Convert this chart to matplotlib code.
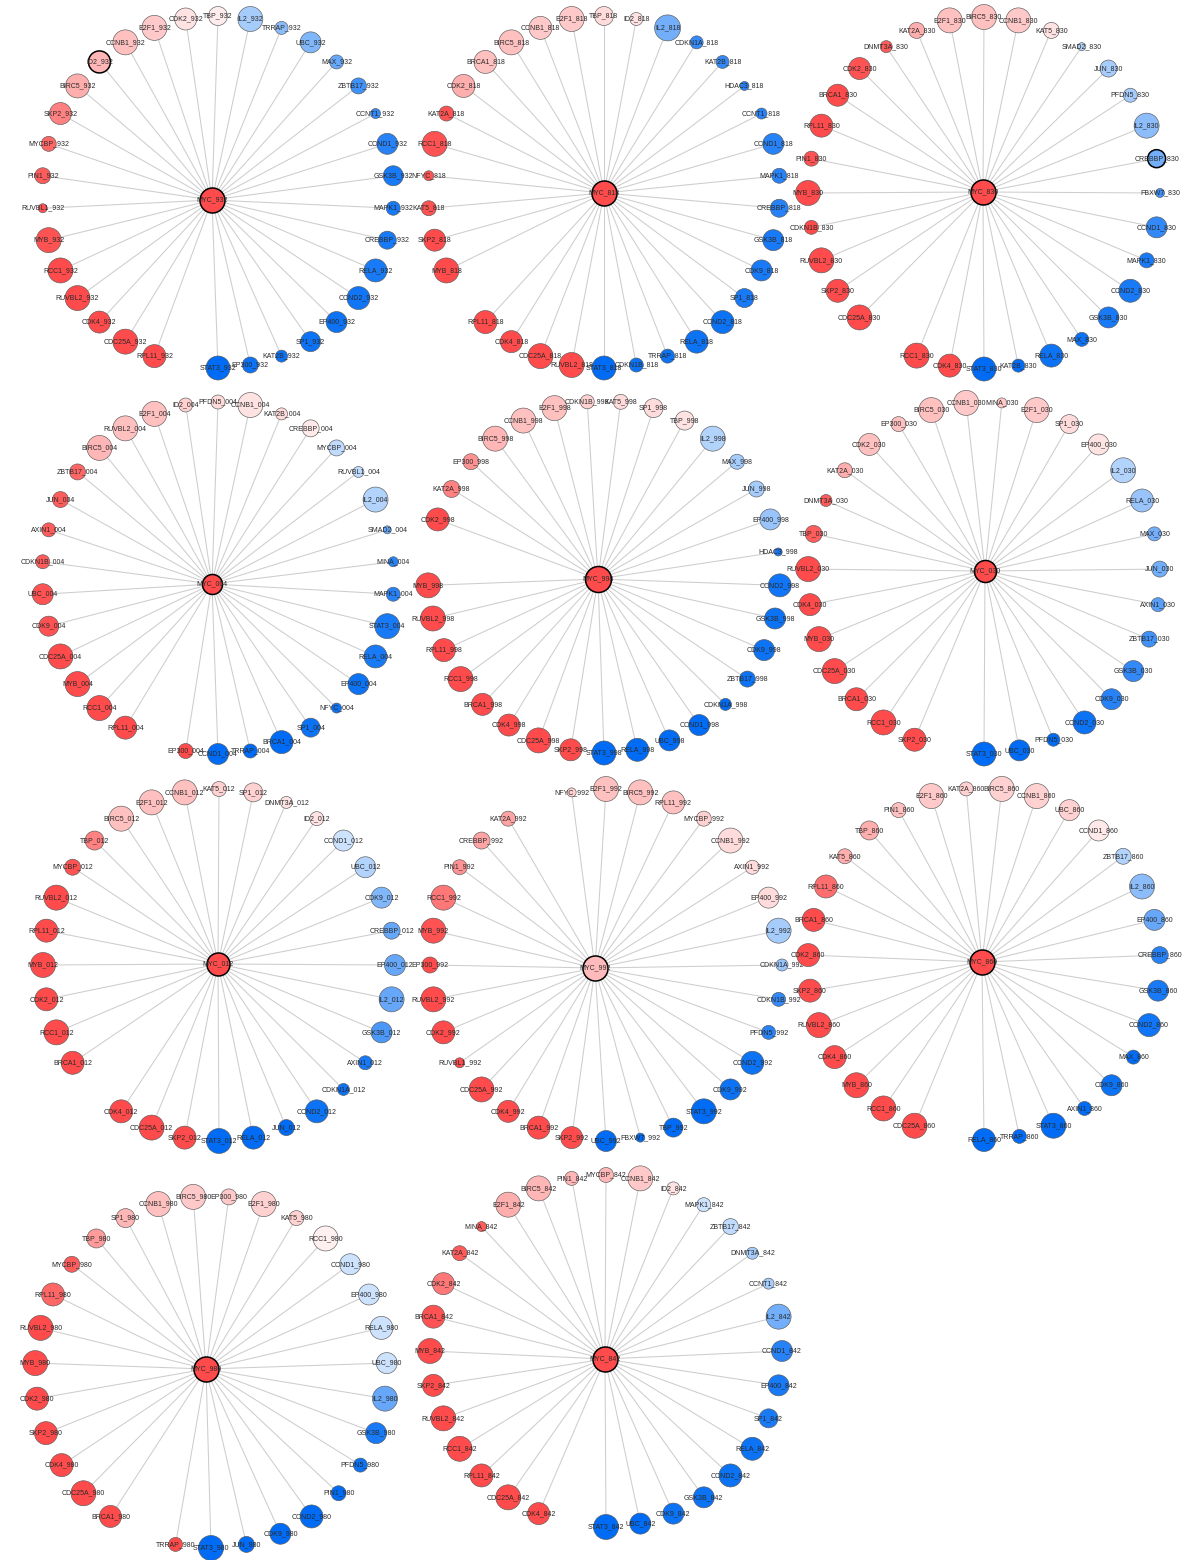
import numpy as np
import matplotlib
matplotlib.use("Agg")
import matplotlib.pyplot as plt
from matplotlib.colors import LinearSegmentedColormap, Normalize

plt.rcParams['font.family'] = ['Liberation Sans', 'DejaVu Sans']

W, H = 1185, 1560
RING_R = 176.0     # ring radius in pixels
HALF = 205.0       # half-width of each panel box in pixels

panels = ["932", "818", "830", "004", "998", "030", "012", "992", "860", "980", "842"]

# ring centre of every panel, figure pixels (x from left, y from top)
centres = {
    "932": (218, 192), "818": (604, 192), "830": (984, 193),
    "004": (218, 578), "998": (604, 577), "030": (984, 578),
    "012": (219, 965), "992": (606, 965), "860": (984, 964),
    "980": (211, 1372), "842": (606, 1351),
}
# small displacement of the hub from the ring centre, pixels (right, down)
hub_shift = {
    "932": (-6, 8), "818": (0, 1), "830": (-1, -1),
    "004": (-6, 6), "998": (-6, 2), "030": (1, -7),
    "012": (-1, -1), "992": (-11, 3), "860": (-2, -2),
    "980": (-5, -3), "842": (-1, 8),
}

# hub (MYC) score and diameter per panel
hub_score = {"932": 1.0, "818": 1.0, "830": 1.0, "004": 1.0, "998": 1.0, "030": 1.0,
             "012": 1.0, "992": 0.38, "860": 1.0, "980": 1.0, "842": 1.0}
hub_size = {"932": 25, "818": 25, "830": 25, "004": 20, "998": 26, "030": 22,
            "012": 23, "992": 25, "860": 25, "980": 25, "842": 25}

# leaves in ring order: slot 0 at the bottom, then counter-clockwise; None = empty slot
genes_932 = ["STAT3", "EP300", "KAT2B", "SP1", "EP400", "CCND2", "RELA", "CREBBP", "MAPK1", "GSK3B",
             "CCND1", "CCNT1", "ZBTB17", "MAX", "UBC", "TRRAP", "IL2", "TBP", "CDK2", "E2F1",
             "CCNB1", "ID2", "BIRC5", "SKP2", "MYCBP", "PIN1", "RUVBL1", "MYB", "RCC1", "RUVBL2",
             "CDK4", "CDC25A", "RPL11", None]
score_932 = [-1, -0.95, -0.95, -0.95, -0.95, -0.93, -0.9, -0.9, -0.9, -0.9,
             -0.85, -0.8, -0.75, -0.6, -0.5, -0.45, -0.35, 0.1, 0.15, 0.3,
             0.35, 0.4, 0.45, 0.7, 0.85, 0.9, 0.95, 0.95, 1, 1,
             1, 1, 1, None]
size_932 = [24, 16, 12, 20, 21, 23, 23, 18, 14, 20,
            21, 10, 16, 14, 21, 13, 25, 19, 22, 25,
            25, 22, 24, 22, 15, 16, 9, 25, 25, 25,
            22, 25, 23, None]

genes_818 = ["STAT3", "CDKN1B", "TRRAP", "RELA", "CCND2", "SP1", "CDK9", "GSK3B", "CREBBP", "MAPK1",
             "CCND1", "CCNT1", "HDAC3", "KAT2B", "CDKN1A", "IL2", "ID2", "TBP", "E2F1", "CCNB1",
             "BIRC5", "BRCA1", "CDK2", "KAT2A", "RCC1", "NFYC", "KAT5", "SKP2", "MYB", None,
             "RPL11", "CDK4", "CDC25A", "RUVBL2"]
score_818 = [-1, -0.95, -0.95, -0.95, -0.95, -0.9, -0.9, -0.9, -0.85, -0.85,
             -0.85, -0.85, -0.85, -0.8, -0.8, -0.55, 0.15, 0.2, 0.3, 0.3,
             0.35, 0.35, 0.45, 0.95, 0.95, 0.95, 0.95, 1, 1, None,
             1, 1, 1, 1]
size_818 = [24, 14, 14, 23, 23, 19, 21, 21, 18, 15,
            21, 11, 9, 13, 13, 26, 13, 19, 25, 23,
            25, 23, 23, 15, 25, 10, 15, 22, 25, None,
            23, 22, 25, 25]

genes_830 = ["STAT3", "KAT2B", "RELA", "MAX", "GSK3B", "CCND2", "MAPK1", "CCND1", "FBXW7", "CREBBP",
             "IL2", "PFDN5", "JUN", "SMAD2", "KAT5", "CCNB1", "BIRC5", "E2F1", "KAT2A", "DNMT3A",
             "CDK2", "BRCA1", "RPL11", "PIN1", "MYB", "CDKN1B", "RUVBL2", "SKP2", "CDC25A", None,
             "RCC1", "CDK4"]
score_830 = [-1, -1, -0.95, -0.95, -0.9, -0.9, -0.9, -0.8, -0.75, -0.55,
             -0.45, -0.35, -0.35, -0.3, 0.15, 0.3, 0.35, 0.35, 0.45, 0.9,
             0.95, 1, 1, 0.95, 1, 1, 1, 1, 1, None,
             1, 1]
size_830 = [24, 13, 23, 14, 21, 23, 15, 21, 9, 18,
            25, 14, 17, 8, 16, 25, 25, 25, 16, 12,
            22, 22, 23, 15, 25, 14, 25, 23, 25, None,
            25, 23]

genes_004 = ["CCND1", "TRRAP", "BRCA1", "SP1", "NFYC", "EP400", "RELA", "STAT3", "MAPK1", "MINA",
             "SMAD2", "IL2", "RUVBL1", "MYCBP", "CREBBP", "KAT2B", "CCNB1", "PFDN5", "ID2", "E2F1",
             "RUVBL2", "BIRC5", "ZBTB17", "JUN", "AXIN1", "CDKN1B", "UBC", "CDK9", "CDC25A", "MYB",
             "RCC1", "RPL11", None, "EP300"]
score_004 = [-1, -1, -1, -0.95, -0.95, -0.95, -0.9, -0.9, -0.85, -0.85,
             -0.6, -0.3, -0.25, -0.25, 0.12, 0.2, 0.15, 0.2, 0.25, 0.35,
             0.35, 0.4, 0.85, 0.9, 0.9, 0.9, 0.95, 0.95, 1, 1,
             1, 1, None, 1]
size_004 = [21, 14, 23, 19, 10, 21, 23, 25, 14, 10,
            8, 25, 11, 16, 17, 12, 25, 14, 14, 25,
            25, 25, 16, 16, 14, 14, 21, 20, 25, 25,
            25, 23, None, 15]

genes_998 = ["STAT3", "RELA", "UBC", "CCND1", "CDKN1A", "ZBTB17", "CDK9", "GSK3B", "CCND2", "HDAC3",
             "EP400", "JUN", "MAX", "IL2", "TBP", "SP1", "KAT5", "CDKN1B", "E2F1", "CCNB1",
             "BIRC5", "EP300", "KAT2A", "CDK2", None, "MYB", "RUVBL2", "RPL11", "RCC1", "BRCA1",
             "CDK4", "CDC25A", "SKP2"]
score_998 = [-1, -1, -1, -1, -1, -0.95, -0.95, -0.95, -0.93, -0.9,
             -0.4, -0.35, -0.35, -0.3, 0.15, 0.2, 0.2, 0.25, 0.35, 0.35,
             0.4, 0.6, 0.7, 1, None, 1, 1, 1, 1, 1,
             1, 1, 1]
size_998 = [24, 23, 21, 21, 12, 16, 21, 21, 23, 8,
            21, 16, 15, 25, 19, 19, 15, 14, 25, 25,
            25, 16, 17, 23, None, 25, 25, 23, 25, 22,
            22, 25, 22]

genes_030 = ["STAT3", "UBC", "PFDN5", "CCND2", "CDK9", "GSK3B", "ZBTB17", "AXIN1", "JUN", "MAX",
             "RELA", "IL2", "EP400", "SP1", "E2F1", "MINA", "CCNB1", "BIRC5", "EP300", "CDK2",
             "KAT2A", "DNMT3A", "TBP", "RUVBL2", "CDK4", "MYB", "CDC25A", "BRCA1", "RCC1", "SKP2",
             None]
score_030 = [-1, -1, -1, -0.95, -0.85, -0.8, -0.75, -0.65, -0.55, -0.55,
             -0.4, -0.3, 0.15, 0.2, 0.3, 0.3, 0.3, 0.35, 0.35, 0.35,
             0.45, 0.9, 0.9, 1, 1, 1, 1, 1, 1, 1,
             None]
size_030 = [24, 21, 13, 23, 21, 21, 16, 14, 16, 14,
            23, 25, 21, 19, 25, 10, 25, 25, 15, 22,
            15, 12, 17, 25, 22, 25, 25, 23, 25, 23,
            None]

genes_012 = ["STAT3", "RELA", "JUN", "CCND2", "CDKN1A", "AXIN1", "GSK3B", "IL2", "EP400", "CREBBP",
             "CDK9", "UBC", "CCND1", "ID2", "DNMT3A", "SP1", "KAT5", "CCNB1", "E2F1", "BIRC5",
             "TBP", "MYCBP", "RUVBL2", "RPL11", "MYB", "CDK2", "RCC1", "BRCA1", None, "CDK4",
             "CDC25A", "SKP2"]
score_012 = [-1, -1, -1, -0.95, -0.95, -0.9, -0.7, -0.6, -0.6, -0.6,
             -0.5, -0.3, -0.2, 0.15, 0.15, 0.25, 0.25, 0.35, 0.35, 0.35,
             0.7, 0.95, 1, 1, 1, 1, 1, 1, None, 1,
             1, 1]
size_012 = [25, 23, 16, 23, 12, 14, 21, 25, 21, 17,
            21, 21, 21, 14, 12, 19, 15, 25, 25, 25,
            19, 16, 25, 23, 25, 23, 25, 23, None, 23,
            25, 23]

genes_992 = ["UBC", "FBXW7", "TBP", "STAT3", "CDK9", "CCND2", "PFDN5", "CDKN1B", "CDKN1A", "IL2",
             "EP400", "AXIN1", "CCNB1", "MYCBP", "RPL11", "BIRC5", "E2F1", "NFYC", None, "KAT2A",
             "CREBBP", "PIN1", "RCC1", "MYB", "EP300", "RUVBL2", "CDK2", "RUVBL1", "CDC25A", "CDK4",
             "BRCA1", "SKP2"]
score_992 = [-1, -1, -1, -1, -0.95, -0.95, -0.85, -0.8, -0.4, -0.35,
             0.2, 0.2, 0.2, 0.25, 0.35, 0.35, 0.35, 0.25, None, 0.5,
             0.5, 0.6, 0.75, 0.95, 1, 1, 1, 1, 1, 1,
             1, 1]
size_992 = [21, 9, 19, 25, 21, 23, 14, 14, 12, 25,
            21, 14, 25, 15, 23, 25, 25, 9, None, 15,
            17, 15, 25, 25, 16, 25, 23, 10, 25, 22,
            23, 22]

genes_860 = ["RELA", "TRRAP", "STAT3", "AXIN1", "CDK9", "MAX", "CCND2", "GSK3B", "CREBBP", "EP400",
             "IL2", "ZBTB17", "CCND1", "UBC", "CCNB1", "BIRC5", "KAT2A", "E2F1", "PIN1", "TBP",
             "KAT5", "RPL11", "BRCA1", "CDK2", "SKP2", "RUVBL2", "CDK4", "MYB", "RCC1", "CDC25A",
             None]
score_860 = [-1, -1, -1, -1, -0.95, -1, -0.93, -0.9, -0.85, -0.6,
             -0.45, -0.3, 0.12, 0.25, 0.25, 0.25, 0.25, 0.3, 0.35, 0.45,
             0.45, 0.8, 1, 1, 1, 1, 1, 1, 1, 1,
             None]
size_860 = [23, 14, 25, 14, 21, 14, 23, 21, 17, 21,
            25, 16, 21, 21, 25, 25, 14, 25, 15, 19,
            15, 23, 23, 23, 23, 25, 23, 25, 25, 25,
            None]

genes_980 = ["STAT3", "JUN", "CDK9", "CCND2", "PIN1", "PFDN5", "GSK3B", "IL2", "UBC", "RELA",
             "EP400", "CCND1", "RCC1", "KAT5", "E2F1", "EP300", "BIRC5", "CCNB1", "SP1", "TBP",
             "MYCBP", "RPL11", "RUVBL2", "MYB", "CDK2", "SKP2", "CDK4", "CDC25A", "BRCA1", None,
             "TRRAP"]
score_980 = [-1, -1, -1, -1, -1, -0.95, -0.9, -0.6, -0.2, -0.2,
             -0.2, -0.2, 0.08, 0.25, 0.25, 0.3, 0.3, 0.35, 0.4, 0.55,
             0.9, 0.85, 1, 1, 1, 1, 1, 1, 1, None,
             1]
size_980 = [25, 16, 21, 23, 15, 14, 21, 25, 21, 23,
            21, 21, 25, 15, 25, 16, 25, 25, 19, 19,
            16, 23, 25, 25, 23, 23, 23, 25, 22, None,
            14]

genes_842 = ["STAT3", "UBC", "CDK9", "GSK3B", "CCND2", "RELA", "SP1", "EP400", "CCND1", "IL2",
             "CCNT1", "DNMT3A", "ZBTB17", "MAPK1", "ID2", "CCNB1", "MYCBP", "PIN1", "BIRC5", "E2F1",
             "MINA", "KAT2A", "CDK2", "BRCA1", "MYB", "SKP2", "RUVBL2", "RCC1", "RPL11", "CDC25A",
             "CDK4", None]
score_842 = [-1, -1, -0.95, -0.95, -0.95, -0.95, -0.9, -0.9, -0.85, -0.55,
             -0.35, -0.35, -0.25, -0.2, 0.15, 0.3, 0.4, 0.4, 0.4, 0.45,
             0.9, 0.9, 0.75, 0.95, 1, 1, 1, 1, 1, 1,
             1, None]
size_842 = [25, 21, 21, 21, 23, 23, 19, 21, 21, 25,
            11, 12, 16, 14, 13, 25, 15, 14, 25, 25,
            10, 15, 22, 23, 25, 22, 25, 25, 23, 25,
            22, None]

# nodes drawn with a heavy outline
outlined = ["ID2_932", "CREBBP_830"]

panel_data = {
    "932": (genes_932, score_932, size_932), "818": (genes_818, score_818, size_818),
    "830": (genes_830, score_830, size_830), "004": (genes_004, score_004, size_004),
    "998": (genes_998, score_998, size_998), "030": (genes_030, score_030, size_030),
    "012": (genes_012, score_012, size_012), "992": (genes_992, score_992, size_992),
    "860": (genes_860, score_860, size_860), "980": (genes_980, score_980, size_980),
    "842": (genes_842, score_842, size_842),
}

cmap = LinearSegmentedColormap.from_list(
    "blue_white_red", [(0.0, "#006cf5"), (0.5, "#ffffff"), (1.0, "#ff4b4b")])
norm = Normalize(vmin=-1, vmax=1)

PX2PT = 72.0 / 100.0


def marker_area(diam_px):
    return (np.asarray(diam_px, dtype=float) * PX2PT) ** 2


fig = plt.figure(figsize=(W / 100, H / 100), dpi=100)
lim = HALF / RING_R

for pid in panels:
    cx, cy = centres[pid]
    ax = fig.add_axes([(cx - HALF) / W, 1 - (cy + HALF) / H, 2 * HALF / W, 2 * HALF / H])
    ax.set_xlim(-lim, lim)
    ax.set_ylim(-lim, lim)
    ax.set_aspect("equal")
    ax.axis("off")

    genes, scores, sizes = panel_data[pid]
    n = len(genes)
    ang = -np.pi / 2 + 2 * np.pi * np.arange(n) / n
    keep = [i for i, g in enumerate(genes) if g is not None]
    xs = np.cos(ang[keep])
    ys = np.sin(ang[keep])
    sc = np.array([scores[i] for i in keep], dtype=float)
    sz = np.array([sizes[i] for i in keep], dtype=float)
    labels = [f"{genes[i]}_{pid}" for i in keep]

    hx = hub_shift[pid][0] / RING_R
    hy = -hub_shift[pid][1] / RING_R

    for x, y in zip(xs, ys):
        ax.plot([hx, x], [hy, y], color="#cdcdcd", lw=0.75, zorder=1, solid_capstyle="butt")

    heavy = np.array([lab in outlined for lab in labels])
    lws = np.where(heavy, 1.1, 0.45)
    ecs = ["#000000" if h else "#5a5a5a" for h in heavy]
    ax.scatter(xs, ys, s=marker_area(sz), c=sc, cmap=cmap, norm=norm,
               edgecolors=ecs, linewidths=lws, zorder=2, clip_on=False)
    ax.scatter([hx], [hy], s=marker_area([hub_size[pid]]), c=[hub_score[pid]], cmap=cmap,
               norm=norm, edgecolors="#000000", linewidths=1.1, zorder=2, clip_on=False)

    for x, y, lab in zip(xs, ys, labels):
        ax.text(x, y, lab, ha="center", va="center", fontsize=5, color="#2a2a2a",
                zorder=3, clip_on=False)
    ax.text(hx, hy, f"MYC_{pid}", ha="center", va="center", fontsize=5,
            color="#2a2a2a", zorder=3, clip_on=False)

fig.savefig("out.png", dpi=100)
